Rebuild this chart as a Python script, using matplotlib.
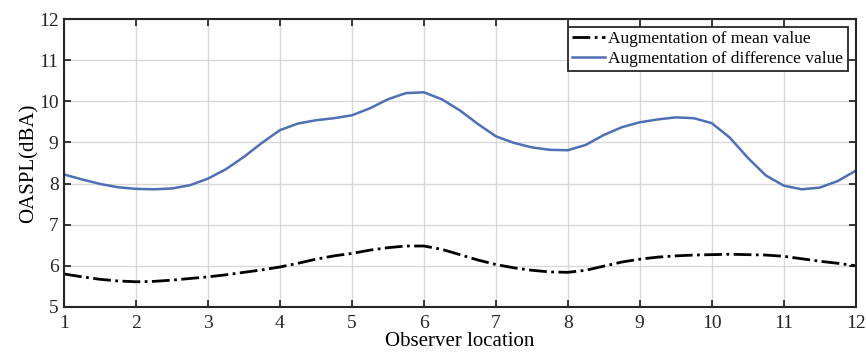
import numpy as np
import matplotlib
matplotlib.use('Agg')
from matplotlib import pyplot as plt

# values, every quarter of a location
x = [1.00, 1.25, 1.50, 1.75, 2.00, 2.25, 2.50, 2.75, 3.00, 3.25, 3.50, 3.75,
     4.00, 4.25, 4.50, 4.75, 5.00, 5.25, 5.50, 5.75, 6.00, 6.25, 6.50, 6.75,
     7.00, 7.25, 7.50, 7.75, 8.00, 8.25, 8.50, 8.75, 9.00, 9.25, 9.50, 9.75,
     10.00, 10.25, 10.50, 10.75, 11.00, 11.25, 11.50, 11.75, 12.00]
mean_aug = [5.80, 5.73, 5.67, 5.63, 5.61, 5.62, 5.65, 5.69, 5.73, 5.78, 5.84, 5.90,
            5.97, 6.06, 6.16, 6.24, 6.30, 6.38, 6.44, 6.48, 6.48, 6.40, 6.27, 6.14,
            6.03, 5.95, 5.89, 5.85, 5.84, 5.89, 5.99, 6.09, 6.16, 6.21, 6.24, 6.26,
            6.27, 6.28, 6.27, 6.26, 6.23, 6.17, 6.11, 6.06, 6.00]
diff_aug = [8.22, 8.10, 7.99, 7.91, 7.87, 7.86, 7.88, 7.96, 8.12, 8.35, 8.65, 8.99,
            9.30, 9.46, 9.54, 9.59, 9.66, 9.83, 10.05, 10.20, 10.22, 10.05, 9.78, 9.45,
            9.15, 8.99, 8.88, 8.82, 8.81, 8.94, 9.18, 9.37, 9.49, 9.56, 9.61, 9.59,
            9.47, 9.12, 8.63, 8.20, 7.95, 7.86, 7.90, 8.06, 8.31]
xticks = list(range(1, 13))
yticks = list(range(5, 13))
labels = ['Augmentation of mean value', 'Augmentation of difference value']

plt.rcParams['font.family'] = ['Liberation Serif', 'DejaVu Serif']

fig = plt.figure(figsize=(8.66, 3.61), dpi=100)
ax = fig.add_axes([0.074, 0.150, 0.914, 0.797])

ax.plot(x, mean_aug, color='black', linestyle='-.', linewidth=2.0, label=labels[0])
ax.plot(x, diff_aug, color='#4f6fb5', linestyle='-', linewidth=1.8, label=labels[1])

ax.set_xlim(1, 12)
ax.set_ylim(5, 12)
ax.set_xticks(xticks)
ax.set_yticks(yticks)
ax.grid(True, color='#d8d8d8', linewidth=1.0)
ax.set_axisbelow(True)
ax.tick_params(direction='in', top=True, right=True, length=5, width=1.3,
               labelsize=14, colors='#262626')
ax.tick_params(axis='x', pad=6)
ax.tick_params(axis='y', pad=4)
for s in ax.spines.values():
    s.set_linewidth(1.5)
    s.set_color('#262626')

ax.set_xlabel('Observer location', fontsize=15, labelpad=0)
ax.set_ylabel('OASPL(dBA)', fontsize=15, labelpad=0)

leg = ax.legend(loc='upper right', fontsize=12.5, frameon=True, fancybox=False,
                framealpha=1, edgecolor='#262626', borderpad=0.25,
                handlelength=1.9, handletextpad=0.2, labelspacing=0.2,
                borderaxespad=0.45)
leg.get_frame().set_linewidth(1.3)

fig.savefig('out.png', dpi=100)
